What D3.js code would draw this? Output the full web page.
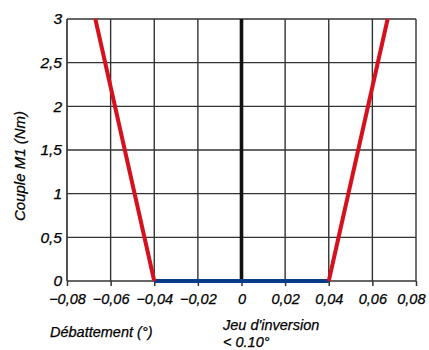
<!DOCTYPE html>
<html>
<head>
<meta charset="utf-8">
<script src="https://cdn.jsdelivr.net/npm/d3@7"></script>
<style>
  body { margin: 0; background: #fff; }
  svg text { font-family: "Liberation Sans", Arial, sans-serif; font-style: italic; fill: #000; stroke: #000; stroke-width: 0.25px; }
</style>
</head>
<body>
<svg id="chart" width="429" height="350"></svg>
<script>
// tick values
const xTicks = [-0.08, -0.06, -0.04, -0.02, 0, 0.02, 0.04, 0.06, 0.08];
const xGrid = [-0.08, -0.06, -0.04, -0.02, 0.02, 0.04, 0.06, 0.08];
const yTicks = [0, 0.5, 1, 1.5, 2, 2.5, 3];

// series: torque vs deflection
const leftBranch = [[-0.067, 3], [-0.04, 0]];
const backlash = [[-0.04, 0], [0.04, 0]];
const rightBranch = [[0.04, 0], [0.067, 3]];

const fmt = d => String(d).replace(".", ",").replace("-", "\u2212");

const margin = {top: 19, right: 13, bottom: 69, left: 67};
const width = 429 - margin.left - margin.right;
const height = 350 - margin.top - margin.bottom;

const svg = d3.select("#chart");
const g = svg.append("g").attr("transform", `translate(${margin.left},${margin.top})`);

const x = d3.scaleLinear().domain([-0.08, 0.08]).range([0, width]);
const y = d3.scaleLinear().domain([0, 3]).range([height, 0]);

// grid
g.selectAll(".vgrid").data(xGrid).enter().append("line")
  .attr("x1", d => x(d)).attr("x2", d => x(d))
  .attr("y1", 0).attr("y2", height)
  .attr("stroke", "#333").attr("stroke-width", d => d === -0.08 ? 1.7 : 1.4);

g.selectAll(".hgrid").data(yTicks).enter().append("line")
  .attr("x1", 0).attr("x2", width)
  .attr("y1", d => y(d)).attr("y2", d => y(d))
  .attr("stroke", "#333").attr("stroke-width", d => d === 0 ? 1.7 : 1.4);

// x axis
const xAxis = g.append("g")
  .attr("transform", `translate(0,${height})`)
  .call(d3.axisBottom(x).tickValues(xTicks).tickFormat(fmt).tickSize(5).tickPadding(8));
xAxis.select(".domain").remove();
xAxis.selectAll(".tick line").attr("stroke", "#333").attr("stroke-width", 1.5);
xAxis.selectAll("text").attr("font-size", "14.5px").attr("font-family", null)
  .attr("text-anchor", d => d === 0.08 ? "end" : "middle")
  .attr("dx", d => d === 0.08 ? 9 : 0);

// y axis
const yAxis = g.append("g")
  .call(d3.axisLeft(y).tickValues(yTicks).tickFormat(fmt).tickSize(0).tickPadding(5));
yAxis.select(".domain").remove();
yAxis.selectAll("text").attr("font-size", "15.5px").attr("font-family", null);

// zero line
g.append("line")
  .attr("x1", x(0)).attr("x2", x(0))
  .attr("y1", 0).attr("y2", height)
  .attr("stroke", "#111").attr("stroke-width", 3.6);

const line = d3.line().x(d => x(d[0])).y(d => y(d[1]));

g.append("path").datum(backlash).attr("d", line)
  .attr("fill", "none").attr("stroke", "#0a3a8a").attr("stroke-width", 4);

g.selectAll(".branch").data([leftBranch, rightBranch]).enter().append("path")
  .attr("d", line)
  .attr("fill", "none").attr("stroke", "#d5111d").attr("stroke-width", 4);

// labels
svg.append("text")
  .attr("transform", "translate(25,166) rotate(-90)")
  .attr("text-anchor", "middle")
  .attr("font-size", "15px")
  .text("Couple M1 (Nm)");

svg.append("text")
  .attr("x", 50).attr("y", 337)
  .attr("font-size", "14.5px")
  .text("Débattement (°)");

svg.append("text")
  .attr("x", 223).attr("y", 330)
  .attr("font-size", "14.5px")
  .text("Jeu d'inversion");

svg.append("text")
  .attr("x", 223).attr("y", 347)
  .attr("font-size", "14.5px")
  .text("< 0.10°");
</script>
</body>
</html>
